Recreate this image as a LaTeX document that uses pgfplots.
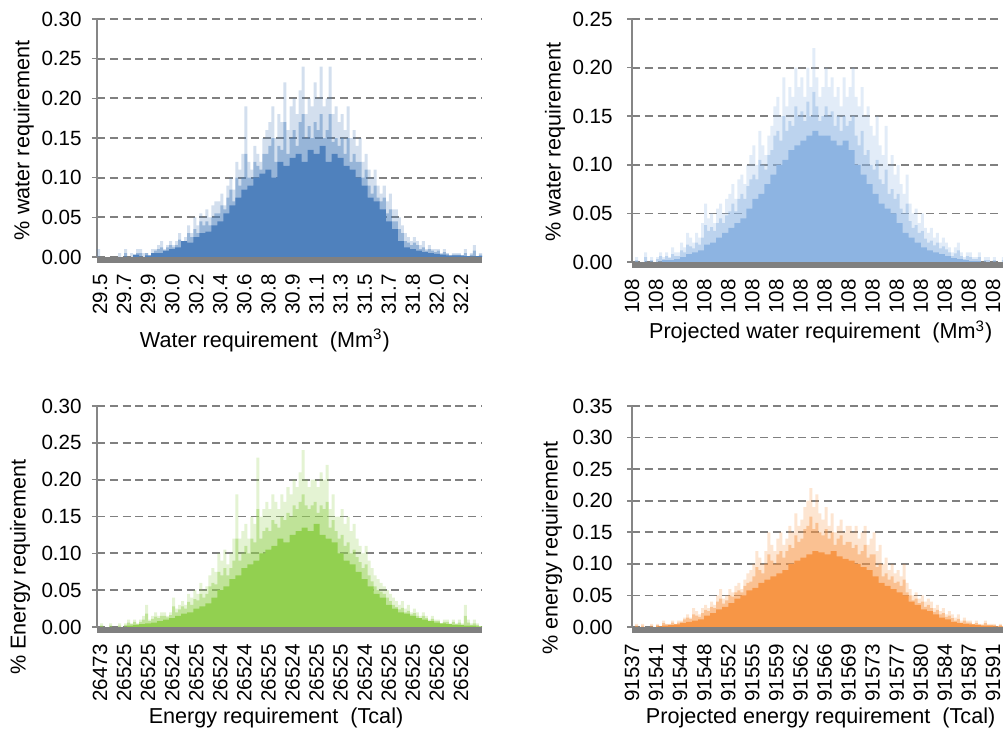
\documentclass[border=0pt]{standalone}
\usepackage{fontspec}
\setmainfont{Liberation Sans}
\usepackage{pgfplots}
\usepackage{pgfplotstable}
\pgfplotsset{compat=1.18}

\definecolor{c1}{RGB}{79,129,189}
\definecolor{c2}{RGB}{141,180,226}
\definecolor{c3}{RGB}{146,208,80}
\definecolor{c4}{RGB}{247,150,70}
\definecolor{axgray}{RGB}{134,134,134}
\definecolor{gridgray}{RGB}{128,128,128}
\definecolor{bargray}{RGB}{128,128,128}

% ---------- Panel 1: water requirement ----------
\pgfplotstableread[header=false,row sep=\\]{
0.01\\0\\0\\0\\0\\0\\0\\0.005\\
0\\0.01\\0\\0.005\\0\\0.01\\0.01\\0.005\\
0.005\\0\\0.01\\0.01\\0.015\\0.02\\0.01\\0.015\\
0.02\\0.015\\0.02\\0.03\\0.02\\0.025\\0.04\\0.03\\
0.05\\0.04\\0.055\\0.05\\0.06\\0.05\\0.065\\0.07\\
0.07\\0.08\\0.065\\0.09\\0.1\\0.085\\0.12\\0.11\\
0.13\\0.19\\0.12\\0.11\\0.14\\0.13\\0.12\\0.15\\
0.16\\0.17\\0.19\\0.15\\0.18\\0.17\\0.22\\0.16\\
0.19\\0.2\\0.18\\0.21\\0.24\\0.18\\0.2\\0.19\\
0.22\\0.2\\0.24\\0.19\\0.2\\0.24\\0.18\\0.19\\
0.17\\0.18\\0.16\\0.19\\0.15\\0.16\\0.14\\0.15\\
0.12\\0.13\\0.11\\0.1\\0.11\\0.09\\0.08\\0.09\\
0.07\\0.08\\0.06\\0.06\\0.05\\0.04\\0.03\\0.025\\
0.02\\0.025\\0.02\\0.015\\0.02\\0.01\\0.015\\0.01\\
0.01\\0.01\\0.005\\0.01\\0.005\\0\\0.005\\0.005\\
0.005\\0\\0.01\\0\\0.005\\0.015\\0\\0.005\\
}\Alight
\pgfplotstableread[header=false,row sep=\\]{
0\\0\\0\\0\\0\\0\\0\\0\\
0\\0.005\\0\\0\\0\\0.005\\0.005\\0\\
0.005\\0\\0.005\\0.008\\0.01\\0.012\\0.008\\0.012\\
0.015\\0.012\\0.015\\0.022\\0.018\\0.02\\0.03\\0.025\\
0.035\\0.03\\0.045\\0.04\\0.045\\0.04\\0.05\\0.055\\
0.055\\0.065\\0.06\\0.075\\0.085\\0.07\\0.1\\0.09\\
0.1\\0.13\\0.1\\0.1\\0.12\\0.115\\0.11\\0.13\\
0.13\\0.14\\0.15\\0.12\\0.14\\0.135\\0.17\\0.13\\
0.15\\0.16\\0.14\\0.17\\0.18\\0.15\\0.165\\0.15\\
0.17\\0.16\\0.18\\0.15\\0.16\\0.18\\0.145\\0.15\\
0.14\\0.15\\0.13\\0.15\\0.12\\0.13\\0.12\\0.12\\
0.1\\0.11\\0.09\\0.08\\0.09\\0.075\\0.07\\0.075\\
0.055\\0.06\\0.045\\0.045\\0.035\\0.03\\0.02\\0.018\\
0.015\\0.018\\0.015\\0.01\\0.012\\0.008\\0.01\\0.008\\
0.006\\0.008\\0.004\\0.006\\0.004\\0\\0.003\\0.003\\
0.003\\0\\0.005\\0\\0.003\\0.008\\0\\0.003\\
}\Amid
\pgfplotstableread[header=false,row sep=\\]{
0\\0\\0\\0\\
0\\0\\0.003\\0\\
0.002\\0.005\\0.005\\0.008\\
0.01\\0.012\\0.02\\0.018\\
0.025\\0.03\\0.032\\0.04\\
0.045\\0.055\\0.065\\0.075\\
0.085\\0.09\\0.1\\0.105\\
0.11\\0.1\\0.12\\0.115\\
0.125\\0.13\\0.12\\0.135\\
0.13\\0.14\\0.12\\0.13\\
0.125\\0.115\\0.11\\0.1\\
0.09\\0.075\\0.07\\0.06\\
0.045\\0.035\\0.02\\0.012\\
0.01\\0.008\\0.006\\0.005\\
0.004\\0.003\\0.002\\0.002\\
0.002\\0.001\\0\\0.001\\
}\Acore

% ---------- Panel 2: projected water requirement ----------
\pgfplotstableread[header=false,row sep=\\]{
0\\0.005\\0\\0\\0.01\\0\\0.005\\0\\
0.005\\0.01\\0.005\\0.01\\0.005\\0.015\\0.01\\0.01\\
0.02\\0.015\\0.03\\0.025\\0.02\\0.03\\0.025\\0.04\\
0.06\\0.045\\0.05\\0.04\\0.055\\0.06\\0.05\\0.065\\
0.07\\0.08\\0.065\\0.085\\0.09\\0.08\\0.1\\0.11\\
0.12\\0.1\\0.135\\0.12\\0.11\\0.13\\0.14\\0.16\\
0.17\\0.15\\0.19\\0.16\\0.18\\0.17\\0.2\\0.18\\
0.19\\0.17\\0.2\\0.18\\0.22\\0.19\\0.17\\0.18\\
0.2\\0.18\\0.19\\0.17\\0.18\\0.16\\0.19\\0.17\\
0.18\\0.2\\0.17\\0.16\\0.18\\0.15\\0.16\\0.14\\
0.13\\0.15\\0.12\\0.11\\0.14\\0.1\\0.11\\0.09\\
0.1\\0.08\\0.07\\0.09\\0.06\\0.05\\0.055\\0.04\\
0.05\\0.035\\0.03\\0.035\\0.025\\0.03\\0.02\\0.025\\
0.02\\0.015\\0.01\\0.015\\0.02\\0.01\\0.005\\0.01\\
0.01\\0.005\\0.005\\0.01\\0\\0.005\\0.005\\0\\
0.005\\0\\0\\0.005\\0\\0\\0.005\\0\\
}\Blight
\pgfplotstableread[header=false,row sep=\\]{
0\\0.002\\0\\0\\0.005\\0\\0.002\\0\\
0.003\\0.006\\0.003\\0.006\\0.004\\0.008\\0.006\\0.006\\
0.012\\0.01\\0.018\\0.016\\0.014\\0.02\\0.018\\0.025\\
0.038\\0.032\\0.036\\0.032\\0.04\\0.045\\0.04\\0.048\\
0.052\\0.06\\0.052\\0.065\\0.07\\0.065\\0.078\\0.085\\
0.09\\0.085\\0.105\\0.1\\0.095\\0.11\\0.115\\0.13\\
0.135\\0.125\\0.15\\0.135\\0.145\\0.14\\0.16\\0.15\\
0.155\\0.145\\0.165\\0.15\\0.175\\0.16\\0.145\\0.15\\
0.16\\0.15\\0.155\\0.14\\0.15\\0.135\\0.15\\0.14\\
0.145\\0.15\\0.13\\0.12\\0.135\\0.11\\0.115\\0.1\\
0.095\\0.105\\0.085\\0.08\\0.095\\0.07\\0.075\\0.065\\
0.07\\0.055\\0.05\\0.06\\0.042\\0.035\\0.038\\0.03\\
0.032\\0.024\\0.02\\0.022\\0.017\\0.02\\0.014\\0.016\\
0.013\\0.01\\0.006\\0.009\\0.012\\0.006\\0.003\\0.006\\
0.005\\0.003\\0.003\\0.005\\0\\0.002\\0.002\\0\\
0.002\\0\\0\\0.002\\0\\0\\0.002\\0\\
}\Bmid
\pgfplotstableread[header=false,row sep=\\]{
0\\0\\0\\0\\
0\\0.002\\0.002\\0.003\\
0.005\\0.008\\0.01\\0.012\\
0.018\\0.02\\0.025\\0.03\\
0.035\\0.04\\0.045\\0.055\\
0.065\\0.07\\0.08\\0.09\\
0.1\\0.105\\0.115\\0.12\\
0.125\\0.13\\0.135\\0.13\\
0.13\\0.125\\0.12\\0.125\\
0.115\\0.1\\0.09\\0.08\\
0.07\\0.06\\0.055\\0.05\\
0.04\\0.03\\0.025\\0.02\\
0.015\\0.012\\0.01\\0.008\\
0.006\\0.004\\0.003\\0.002\\
0.001\\0.001\\0\\0\\
0\\0\\0\\0\\
}\Bcore

% ---------- Panel 3: energy requirement ----------
\pgfplotstableread[header=false,row sep=\\]{
0\\0.005\\0\\0\\0.005\\0\\0\\0.005\\
0\\0.005\\0.01\\0.005\\0.01\\0.005\\0.01\\0.015\\
0.03\\0.01\\0.015\\0.02\\0.015\\0.02\\0.02\\0.015\\
0.02\\0.04\\0.025\\0.03\\0.035\\0.03\\0.045\\0.04\\
0.05\\0.045\\0.06\\0.05\\0.055\\0.07\\0.08\\0.075\\
0.1\\0.09\\0.105\\0.085\\0.1\\0.12\\0.18\\0.12\\
0.13\\0.14\\0.12\\0.15\\0.14\\0.23\\0.15\\0.16\\
0.17\\0.16\\0.18\\0.17\\0.16\\0.18\\0.17\\0.19\\
0.18\\0.2\\0.19\\0.21\\0.24\\0.2\\0.19\\0.2\\
0.2\\0.19\\0.21\\0.2\\0.22\\0.16\\0.18\\0.15\\
0.15\\0.16\\0.14\\0.15\\0.13\\0.14\\0.12\\0.11\\
0.1\\0.11\\0.09\\0.08\\0.07\\0.065\\0.06\\0.055\\
0.05\\0.045\\0.04\\0.035\\0.03\\0.035\\0.025\\0.03\\
0.02\\0.025\\0.02\\0.015\\0.02\\0.015\\0.01\\0.015\\
0.01\\0.01\\0.005\\0.01\\0.01\\0.005\\0.01\\0.005\\
0.01\\0.005\\0.03\\0.01\\0.005\\0.01\\0.005\\0\\
}\Clight
\pgfplotstableread[header=false,row sep=\\]{
0\\0.002\\0\\0\\0.002\\0\\0\\0.002\\
0\\0.003\\0.006\\0.004\\0.007\\0.004\\0.007\\0.01\\
0.018\\0.008\\0.011\\0.014\\0.012\\0.015\\0.015\\0.013\\
0.016\\0.028\\0.02\\0.024\\0.028\\0.025\\0.034\\0.03\\
0.038\\0.036\\0.045\\0.04\\0.045\\0.055\\0.06\\0.058\\
0.075\\0.07\\0.08\\0.07\\0.08\\0.09\\0.12\\0.09\\
0.1\\0.11\\0.1\\0.12\\0.115\\0.16\\0.12\\0.13\\
0.135\\0.13\\0.145\\0.14\\0.135\\0.15\\0.145\\0.155\\
0.15\\0.165\\0.16\\0.17\\0.18\\0.165\\0.16\\0.165\\
0.17\\0.155\\0.165\\0.16\\0.17\\0.135\\0.145\\0.13\\
0.12\\0.125\\0.11\\0.115\\0.1\\0.105\\0.095\\0.088\\
0.08\\0.085\\0.07\\0.062\\0.055\\0.05\\0.048\\0.045\\
0.04\\0.035\\0.03\\0.027\\0.024\\0.026\\0.02\\0.022\\
0.017\\0.019\\0.015\\0.012\\0.015\\0.012\\0.008\\0.011\\
0.008\\0.008\\0.004\\0.007\\0.007\\0.004\\0.007\\0.004\\
0.006\\0.003\\0.015\\0.006\\0.003\\0.005\\0.003\\0\\
}\Cmid
\pgfplotstableread[header=false,row sep=\\]{
0\\0\\0\\0\\
0\\0.002\\0.003\\0.004\\
0.005\\0.006\\0.008\\0.01\\
0.012\\0.015\\0.018\\0.02\\
0.025\\0.028\\0.032\\0.04\\
0.05\\0.055\\0.065\\0.07\\
0.08\\0.085\\0.09\\0.1\\
0.105\\0.11\\0.12\\0.115\\
0.125\\0.13\\0.135\\0.13\\
0.14\\0.125\\0.12\\0.115\\
0.1\\0.09\\0.085\\0.075\\
0.065\\0.055\\0.045\\0.04\\
0.03\\0.025\\0.02\\0.018\\
0.015\\0.012\\0.01\\0.008\\
0.006\\0.005\\0.004\\0.003\\
0.003\\0.002\\0.002\\0.001\\
}\Ccore

% ---------- Panel 4: projected energy requirement ----------
\pgfplotstableread[header=false,row sep=\\]{
0\\0.005\\0\\0.005\\0\\0\\0.005\\0\\
0.005\\0\\0.01\\0.005\\0.005\\0.01\\0.005\\0.01\\
0.01\\0.015\\0.02\\0.015\\0.03\\0.025\\0.02\\0.03\\
0.035\\0.03\\0.04\\0.035\\0.05\\0.06\\0.045\\0.05\\
0.06\\0.055\\0.065\\0.07\\0.06\\0.075\\0.085\\0.09\\
0.1\\0.12\\0.11\\0.1\\0.12\\0.15\\0.13\\0.12\\
0.14\\0.15\\0.13\\0.14\\0.16\\0.15\\0.18\\0.16\\
0.17\\0.19\\0.2\\0.22\\0.19\\0.21\\0.18\\0.17\\
0.19\\0.16\\0.18\\0.15\\0.16\\0.17\\0.15\\0.16\\
0.16\\0.15\\0.16\\0.14\\0.15\\0.16\\0.13\\0.14\\
0.15\\0.12\\0.13\\0.1\\0.11\\0.09\\0.1\\0.085\\
0.09\\0.08\\0.1\\0.07\\0.06\\0.05\\0.055\\0.045\\
0.05\\0.04\\0.045\\0.04\\0.03\\0.035\\0.025\\0.03\\
0.02\\0.025\\0.02\\0.015\\0.02\\0.01\\0.015\\0.01\\
0.01\\0.005\\0.01\\0.005\\0.005\\0.01\\0.005\\0.005\\
0.005\\0\\0.005\\0\\0.005\\0\\0\\0\\
}\Dlight
\pgfplotstableread[header=false,row sep=\\]{
0\\0.002\\0\\0.002\\0\\0\\0.002\\0\\
0.003\\0.001\\0.006\\0.004\\0.004\\0.007\\0.004\\0.007\\
0.008\\0.012\\0.015\\0.013\\0.02\\0.018\\0.016\\0.022\\
0.027\\0.025\\0.032\\0.03\\0.04\\0.045\\0.037\\0.042\\
0.05\\0.048\\0.055\\0.058\\0.055\\0.065\\0.07\\0.072\\
0.08\\0.095\\0.09\\0.085\\0.1\\0.115\\0.105\\0.1\\
0.115\\0.12\\0.11\\0.12\\0.13\\0.125\\0.145\\0.135\\
0.14\\0.155\\0.16\\0.175\\0.155\\0.165\\0.15\\0.145\\
0.155\\0.14\\0.15\\0.13\\0.14\\0.145\\0.13\\0.135\\
0.135\\0.125\\0.13\\0.115\\0.12\\0.13\\0.11\\0.115\\
0.115\\0.095\\0.1\\0.08\\0.085\\0.075\\0.08\\0.07\\
0.072\\0.065\\0.075\\0.055\\0.05\\0.042\\0.045\\0.038\\
0.04\\0.032\\0.035\\0.03\\0.024\\0.027\\0.02\\0.022\\
0.016\\0.018\\0.014\\0.01\\0.013\\0.007\\0.01\\0.007\\
0.007\\0.004\\0.006\\0.004\\0.003\\0.006\\0.003\\0.003\\
0.003\\0\\0.003\\0\\0.002\\0\\0\\0\\
}\Dmid
\pgfplotstableread[header=false,row sep=\\]{
0\\0\\0\\0\\
0.001\\0.002\\0.003\\0.004\\
0.006\\0.008\\0.01\\0.012\\
0.018\\0.022\\0.028\\0.032\\
0.038\\0.045\\0.05\\0.058\\
0.062\\0.07\\0.075\\0.08\\
0.085\\0.09\\0.1\\0.105\\
0.11\\0.115\\0.12\\0.118\\
0.115\\0.12\\0.112\\0.108\\
0.105\\0.1\\0.095\\0.09\\
0.08\\0.07\\0.065\\0.06\\
0.055\\0.05\\0.04\\0.035\\
0.028\\0.025\\0.02\\0.015\\
0.012\\0.008\\0.006\\0.005\\
0.004\\0.003\\0.002\\0.002\\
0.001\\0.001\\0\\0\\
}\Dcore

\pgfplotsset{
  hist/.style={
    scale only axis, width=192.5pt,
    xmin=0, xmax=16, ymin=0,
    axis lines*=left,
    x axis line style={draw=none},
    y axis line style={draw=axgray, line width=0.9pt},
    xtick style={draw=none},
    ytick style={draw=axgray, line width=0.8pt},
    tick align=outside, major tick length=2.5pt,
    ymajorgrids,
    major grid style={draw=gridgray, line width=0.9pt, dash pattern=on 4pt off 2.4pt},
    ytick distance=0.05,
    /pgf/number format/assume math mode=true,
    yticklabel style={/pgf/number format/.cd, fixed, fixed zerofill, precision=2, /tikz/.cd,
      font=\fontsize{10.3}{12}\selectfont, inner sep=0pt},
    yticklabel shift=5pt,
    xticklabel style={rotate=90, anchor=east, inner ysep=0pt, inner xsep=6pt, font=\fontsize{10.3}{12}\selectfont},
    xticklabel shift=0pt,
    label style={font=\fontsize{10.8}{13}\selectfont},
    clip=false,
  },
  lightbar/.style={ybar, bar width=0.125, bar shift=0pt, draw=none, fill=#1, fill opacity=0.25},
  midbar/.style={ybar, bar width=0.125, bar shift=0pt, draw=none, fill=#1, fill opacity=0.45},
  corebar/.style={ybar, bar width=0.25, bar shift=0pt, draw=none, fill=#1},
}

\begin{document}
\begin{tikzpicture}
% Panel 1
\begin{axis}[hist, at={(48.5pt,-128.5pt)}, anchor=south west, height=119pt,
  ymax=0.30,
  xtick={0.125,1.125,...,15.125},
  xticklabels={29.5,29.7,29.9,30.0,30.2,30.4,30.6,30.8,30.9,31.1,31.3,31.5,31.7,31.8,32.0,32.2},
  xlabel={Water requirement\ \ (Mm\textsuperscript{3})},
  xlabel style={at={(axis description cs:0.436,-0.349)}, anchor=center},
  ylabel={\% water requirement},
  ylabel style={at={(axis description cs:-0.19,0.49)}, anchor=center},
]
\addplot[lightbar=c1] table[x expr=\coordindex*0.125+0.0625, y index=0] {\Alight};
\addplot[midbar=c1] table[x expr=\coordindex*0.125+0.0625, y index=0] {\Amid};
\addplot[corebar=c1] table[x expr=\coordindex*0.25+0.125, y index=0] {\Acore};
\draw[bargray, line width=3pt] ([yshift=-1.5pt]rel axis cs:0,0) -- ([yshift=-1.5pt]rel axis cs:1,0);
\end{axis}

% Panel 2
\begin{axis}[hist, at={(316pt,-131pt)}, anchor=south west, height=121.5pt,
  ymax=0.25,
  yticklabel shift=7pt,
  xtick={0,1,...,15},
  xticklabels={108,108,108,108,108,108,108,108,108,108,108,108,108,108,108,108},
  xlabel={Projected water requirement\ \ (Mm\textsuperscript{3})},
  xlabel style={at={(axis description cs:0.49,-0.288)}, anchor=center},
  ylabel={\% water requirement},
  ylabel style={at={(axis description cs:-0.2,0.494)}, anchor=center},
]
\addplot[lightbar=c2] table[x expr=\coordindex*0.125+0.0625, y index=0] {\Blight};
\addplot[midbar=c2] table[x expr=\coordindex*0.125+0.0625, y index=0] {\Bmid};
\addplot[corebar=c2] table[x expr=\coordindex*0.25+0.125, y index=0] {\Bcore};
\draw[bargray, line width=3pt] ([yshift=-1.5pt]rel axis cs:0,0) -- ([yshift=-1.5pt]rel axis cs:1,0);
\end{axis}

% Panel 3
\begin{axis}[hist, at={(48.5pt,-313.5pt)}, anchor=south west, height=110.5pt,
  ymax=0.30,
  xtick={0.125,1.125,...,15.125},
  xticklabels={26473,26525,26525,26524,26525,26524,26524,26525,26524,26525,26525,26524,26525,26525,26526,26526},
  xlabel={Energy requirement\ \ (Tcal)},
  xlabel style={at={(axis description cs:0.465,-0.412)}, anchor=center},
  ylabel={\% Energy requirement},
  ylabel style={at={(axis description cs:-0.2,0.27)}, anchor=center},
]
\addplot[lightbar=c3] table[x expr=\coordindex*0.125+0.0625, y index=0] {\Clight};
\addplot[midbar=c3] table[x expr=\coordindex*0.125+0.0625, y index=0] {\Cmid};
\addplot[corebar=c3] table[x expr=\coordindex*0.25+0.125, y index=0] {\Ccore};
\draw[bargray, line width=3pt] ([yshift=-1.5pt]rel axis cs:0,0) -- ([yshift=-1.5pt]rel axis cs:1,0);
\end{axis}

% Panel 4
\begin{axis}[hist, at={(316pt,-313.5pt)}, anchor=south west, height=110.5pt,
  ymax=0.35,
  yticklabel shift=7pt,
  xtick={0,1,...,15},
  xticklabels={91537,91541,91544,91548,91552,91555,91559,91562,91566,91569,91573,91577,91580,91584,91587,91591},
  xlabel={Projected energy requirement\ \ (Tcal)},
  xlabel style={at={(axis description cs:0.49,-0.412)}, anchor=center},
  ylabel={\% energy requirement},
  ylabel style={at={(axis description cs:-0.208,0.357)}, anchor=center},
]
\addplot[lightbar=c4] table[x expr=\coordindex*0.125+0.0625, y index=0] {\Dlight};
\addplot[midbar=c4] table[x expr=\coordindex*0.125+0.0625, y index=0] {\Dmid};
\addplot[corebar=c4] table[x expr=\coordindex*0.25+0.125, y index=0] {\Dcore};
\draw[bargray, line width=3pt] ([yshift=-1.5pt]rel axis cs:0,0) -- ([yshift=-1.5pt]rel axis cs:1,0);
\end{axis}

\pgfresetboundingbox
\path[use as bounding box] (0,0) rectangle (501.5pt,-366.5pt);
\end{tikzpicture}
\end{document}
